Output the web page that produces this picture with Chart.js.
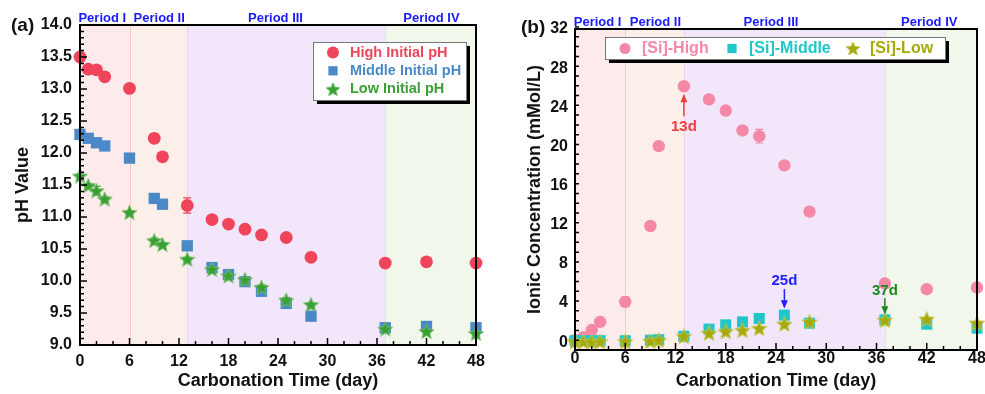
<!DOCTYPE html>
<html>
<head>
<meta charset="utf-8">
<script src="https://cdn.jsdelivr.net/npm/chart.js@4.4.0/dist/chart.umd.min.js"></script>
<style>
body { margin: 0; background: #fff; }
#wrap { position: relative; width: 985px; height: 394px; overflow: hidden; }
canvas { position: absolute; top: 0; }
</style>
</head>
<body>
<div id="wrap">
  <canvas id="chartA" width="492" height="394" style="left:0"></canvas>
  <canvas id="chartB" width="500" height="394" style="left:492px"></canvas>
</div>
<script>
// carbonation days
var days = [0, 1, 2, 3, 6, 9, 10, 13, 16, 18, 20, 22, 25, 28, 37, 42, 48];

// (a) pH values
var highPH   = [13.50, 13.31, 13.30, 13.19, 13.01, 12.23, 11.94, 11.18, 10.96, 10.89, 10.81, 10.72, 10.68, 10.37, 10.28, 10.30, 10.28];
var highErr  = [0.03, 0.03, 0.03, 0.03, 0.04, 0.07, 0.05, 0.12, 0.03, 0.03, 0.03, 0.03, 0.03, 0.03, 0.03, 0.03, 0.03];
var middlePH = [12.29, 12.23, 12.16, 12.11, 11.92, 11.29, 11.20, 10.55, 10.21, 10.10, 9.99, 9.84, 9.65, 9.45, 9.27, 9.29, 9.27];
var middleErr= [0.04, 0.03, 0.03, 0.03, 0.03, 0.04, 0.03, 0.06, 0.04, 0.03, 0.03, 0.04, 0.05, 0.03, 0.04, 0.04, 0.04];
var lowPH    = [11.64, 11.49, 11.41, 11.28, 11.07, 10.63, 10.57, 10.34, 10.18, 10.08, 10.02, 9.90, 9.70, 9.63, 9.25, 9.21, 9.18];
var lowErr   = [0.03, 0.03, 0.07, 0.04, 0.03, 0.04, 0.03, 0.03, 0.04, 0.03, 0.03, 0.04, 0.04, 0.03, 0.04, 0.03, 0.03];

// (b) [Si] concentration, mMol/L
var siHigh     = [0.20, 0.50, 1.24, 2.07, 4.12, 11.87, 20.03, 26.15, 24.80, 23.67, 21.63, 21.05, 18.06, 13.34, 5.99, 5.41, 5.58];
var siHighErr  = [0.1, 0.1, 0.2, 0.2, 0.5, 0.4, 0.35, 0.2, 0.2, 0.2, 0.2, 0.7, 0.2, 0.2, 0.2, 0.2, 0.2];
var siMiddle   = [0.15, 0.15, 0.15, 0.15, 0.15, 0.20, 0.25, 0.60, 1.33, 1.77, 2.07, 2.42, 2.76, 1.94, 2.28, 1.84, 1.43];
var siLow      = [0.05, 0.05, 0.05, 0.05, 0.05, 0.10, 0.20, 0.58, 0.92, 1.09, 1.20, 1.40, 1.84, 2.07, 2.24, 2.35, 1.94];

// tick labels
var xTicks  = [0, 6, 12, 18, 24, 30, 36, 42, 48];
var yTicksA = [9.0, 9.5, 10.0, 10.5, 11.0, 11.5, 12.0, 12.5, 13.0, 13.5, 14.0];
var yTicksB = [0, 4, 8, 12, 16, 20, 24, 28, 32];

// periods
var periodBounds = [0, 6, 13, 37, 48];
var periodNames  = ['Period I', 'Period II', 'Period III', 'Period IV'];

var FONT = '"Liberation Sans", Arial, sans-serif';

function starImage(fill, stroke, R) {
  var c = document.createElement('canvas');
  var s = Math.ceil(R * 2 + 3);
  c.width = s; c.height = s;
  var g = c.getContext('2d');
  g.beginPath();
  for (var i = 0; i < 10; i++) {
    var r = i % 2 ? R * 0.43 : R;
    var a = -Math.PI / 2 + i * Math.PI / 5;
    g.lineTo(s / 2 + r * Math.cos(a), s / 2 + 0.6 + r * Math.sin(a));
  }
  g.closePath();
  g.fillStyle = fill; g.fill();
  g.strokeStyle = stroke; g.lineWidth = 0.8; g.stroke();
  return c;
}

function pts(vals) {
  return days.map(function(d, i) { return {x: d, y: vals[i]}; });
}

function drawMarker(ctx, style, x, y, color, size) {
  ctx.save();
  ctx.fillStyle = color;
  if (style === 'circle') {
    ctx.beginPath(); ctx.arc(x, y, size, 0, Math.PI * 2); ctx.fill();
  } else if (style === 'rect') {
    ctx.fillRect(x - size, y - size, size * 2, size * 2);
  } else {
    ctx.drawImage(style, x - style.width / 2, y - style.height / 2);
  }
  ctx.restore();
}

var decor = {
  id: 'decor',
  beforeDatasetsDraw: function(chart, args, o) {
    var ctx = chart.ctx, a = chart.chartArea, xs = chart.scales.x, ys = chart.scales.y;
    ctx.save();
    for (var i = 0; i < periodNames.length; i++) {
      var x0 = xs.getPixelForValue(periodBounds[i]), x1 = xs.getPixelForValue(periodBounds[i + 1]);
      ctx.fillStyle = o.fills[i];
      ctx.fillRect(x0, a.top, x1 - x0, a.bottom - a.top);
    }
    for (i = 1; i < periodNames.length; i++) {
      var xb = Math.round(xs.getPixelForValue(periodBounds[i])) + 0.5;
      ctx.strokeStyle = o.lines[i - 1];
      ctx.lineWidth = 1;
      ctx.beginPath(); ctx.moveTo(xb, a.top); ctx.lineTo(xb, a.bottom); ctx.stroke();
    }
    // error bars
    chart.data.datasets.forEach(function(ds) {
      if (!ds.err) return;
      ctx.strokeStyle = ds.backgroundColor;
      ctx.lineWidth = 1.2;
      ds.data.forEach(function(p, k) {
        var e = ds.err[k];
        var px = xs.getPixelForValue(p.x), yt = ys.getPixelForValue(p.y + e), yb = ys.getPixelForValue(p.y - e);
        ctx.beginPath();
        ctx.moveTo(px, yt); ctx.lineTo(px, yb);
        ctx.moveTo(px - 4, yt); ctx.lineTo(px + 4, yt);
        ctx.moveTo(px - 4, yb); ctx.lineTo(px + 4, yb);
        ctx.stroke();
      });
    });
    ctx.restore();
  },
  afterDraw: function(chart, args, o) {
    var ctx = chart.ctx, a = chart.chartArea, xs = chart.scales.x, ys = chart.scales.y;
    ctx.save();
    // frame
    ctx.strokeStyle = '#000';
    ctx.lineWidth = 2;
    ctx.strokeRect(a.left, a.top, a.right - a.left, a.bottom - a.top);
    // inward ticks
    ctx.lineWidth = 1.5;
    ctx.beginPath();
    for (var v = 0; v <= 48 + 1e-6; v += 2) {
      var px = xs.getPixelForValue(v), len = (v % 6 === 0) ? 7 : 4;
      ctx.moveTo(px, a.bottom); ctx.lineTo(px, a.bottom - len);
    }
    var n = Math.round((o.yMax - o.yMin) / o.yMinor);
    for (var k = 0; k <= n; k++) {
      var yv = o.yMin + k * o.yMinor;
      var py = ys.getPixelForValue(yv);
      var major = Math.abs(yv / o.yMajor - Math.round(yv / o.yMajor)) < 1e-6;
      ctx.moveTo(a.left, py); ctx.lineTo(a.left + (major ? 7 : 4), py);
    }
    ctx.stroke();

    // period labels
    ctx.fillStyle = '#1a1aff';
    ctx.font = 'bold 13px ' + FONT;
    ctx.textAlign = 'center';
    ctx.textBaseline = 'middle';
    o.periodAt.forEach(function(d, i) {
      ctx.fillText(periodNames[i], xs.getPixelForValue(d), o.periodY);
    });

    // panel label
    ctx.fillStyle = '#111';
    ctx.font = 'bold 19px ' + FONT;
    ctx.textAlign = 'left';
    ctx.fillText(o.panel, o.panelX, o.panelY);

    // legend
    var L = o.legend;
    ctx.fillStyle = '#000';
    ctx.fillRect(L.x + 4, L.y + 4, L.w, L.h);
    ctx.fillStyle = '#fff';
    ctx.fillRect(L.x, L.y, L.w, L.h);
    ctx.strokeStyle = '#777';
    ctx.lineWidth = 1;
    ctx.strokeRect(L.x + 0.5, L.y + 0.5, L.w, L.h);
    ctx.font = 'bold ' + L.font + 'px ' + FONT;
    ctx.textBaseline = 'middle';
    L.items.forEach(function(it, i) {
      var ds = chart.data.datasets[i];
      drawMarker(ctx, it.style, it.mx, it.y, ds.backgroundColor, it.size);
      ctx.fillStyle = ds.backgroundColor;
      ctx.fillText(ds.label, it.tx, it.y);
    });

    // annotations
    (o.notes || []).forEach(function(nt) {
      var p = chart.data.datasets[nt.ds].data[nt.idx];
      var x = xs.getPixelForValue(p.x), y = ys.getPixelForValue(p.y);
      var tip = y + nt.tip, tail = y + nt.tail;
      ctx.strokeStyle = nt.color; ctx.fillStyle = nt.color; ctx.lineWidth = 1.5;
      ctx.beginPath(); ctx.moveTo(x, tail); ctx.lineTo(x, tip); ctx.stroke();
      var dir = tip < tail ? -1 : 1;
      ctx.beginPath();
      ctx.moveTo(x, tip + dir * 1);
      ctx.lineTo(x - 3.5, tip - dir * 7);
      ctx.lineTo(x + 3.5, tip - dir * 7);
      ctx.closePath(); ctx.fill();
      ctx.font = 'bold 15px ' + FONT;
      ctx.textAlign = 'center';
      ctx.textBaseline = 'middle';
      ctx.fillText(nt.text, x, y + nt.ty);
    });
    ctx.restore();
  }
};

function fixedTicks(arr) {
  return function(scale) { scale.ticks = arr.map(function(v) { return {value: v}; }); };
}

function makeChart(id, cfg) {
  return new Chart(document.getElementById(id), {
    type: 'scatter',
    data: {datasets: cfg.datasets},
    plugins: [decor],
    options: {
      responsive: false,
      animation: false,
      layout: {padding: cfg.padding},
      plugins: {legend: {display: false}, tooltip: {enabled: false}, decor: cfg.decor},
      scales: {
        x: {
          min: 0, max: 48,
          afterBuildTicks: fixedTicks(xTicks),
          afterFit: function(s) { s.height = cfg.xHeight; },
          grid: {display: false, drawTicks: false},
          border: {display: false},
          ticks: {color: '#111', font: {family: FONT, size: 16, weight: 'bold'}, padding: cfg.xPad, maxRotation: 0, autoSkip: false},
          title: {display: true, text: 'Carbonation Time (day)', color: '#111',
                  font: {family: FONT, size: 18, weight: 'bold'}, padding: {top: 0, bottom: 2}}
        },
        y: {
          min: cfg.yMin, max: cfg.yMax,
          afterBuildTicks: fixedTicks(cfg.yTicks),
          afterFit: function(s) { s.width = cfg.yWidth; },
          grid: {display: false, drawTicks: false},
          border: {display: false},
          ticks: {color: '#111', font: {family: FONT, size: 16, weight: 'bold'}, padding: cfg.yPad, autoSkip: false,
                  callback: cfg.yFmt},
          title: {display: true, text: cfg.yTitle, color: '#111',
                  font: {family: FONT, size: 18, weight: 'bold'}, padding: {top: cfg.yTitlePad, bottom: 0}}
        }
      }
    }
  });
}

var starGreen = starImage('#3aa034', '#7cc46f', 8);
var starOlive = starImage('#a5aa0a', '#c9cc55', 8.2);
var starGreenL = starImage('#3aa034', '#3aa034', 7);
var starOliveL = starImage('#a5aa0a', '#a5aa0a', 7);

makeChart('chartA', {
  padding: {left: 0, top: 25, right: 16, bottom: 0},
  xHeight: 49, yWidth: 80, xPad: 7, yPad: 8, yTitlePad: 12,
  yMin: 9, yMax: 14, yTicks: yTicksA, yTitle: 'pH Value',
  yFmt: function(v) { return v.toFixed(1); },
  datasets: [
    {label: 'High Initial pH', data: pts(highPH), err: highErr, backgroundColor: '#f0445a', borderColor: '#f0445a',
     pointStyle: 'circle', pointRadius: 6.4, borderWidth: 0, clip: false, order: 3},
    {label: 'Middle Initial pH', data: pts(middlePH), err: middleErr, backgroundColor: '#4a89c6', borderColor: '#4a89c6',
     pointStyle: 'rect', pointRadius: 8, borderWidth: 0, clip: false, order: 2},
    {label: 'Low Initial pH', data: pts(lowPH), err: lowErr, backgroundColor: '#3aa034', borderColor: '#3aa034',
     pointStyle: starGreen, pointRadius: 8, borderWidth: 0, clip: false, order: 1}
  ],
  decor: {
    fills: ['#fdebec', '#fcefe9', '#f2e6fb', '#f1f7eb'],
    lines: ['#f6caca', '#e4d8f0', '#dfe3da'],
    yMin: 9, yMax: 14, yMinor: 0.1, yMajor: 0.5,
    periodAt: [2.7, 9.6, 23.7, 42.6], periodY: 18,
    panel: '(a)', panelX: 11, panelY: 26,
    legend: {x: 313, y: 42, w: 153, h: 58, font: 14.5, items: [
      {style: 'circle', size: 6, mx: 333, tx: 350, y: 52.5},
      {style: 'rect', size: 4.6, mx: 333, tx: 350, y: 70.8},
      {style: starGreenL, size: 7, mx: 333, tx: 350, y: 89.3}
    ]}
  }
});

makeChart('chartB', {
  padding: {left: 0, top: 29, right: 15, bottom: 0},
  xHeight: 44, yWidth: 83, xPad: -1, yPad: 7, yTitlePad: 32,
  yMin: -0.8, yMax: 32, yTicks: yTicksB, yTitle: 'Ionic Concentration (mMol/L)',
  yFmt: function(v) { return String(v); },
  datasets: [
    {label: '[Si]-High', data: pts(siHigh), err: siHighErr, backgroundColor: '#f588a6', borderColor: '#f588a6',
     pointStyle: 'circle', pointRadius: 6.2, borderWidth: 0, clip: false, order: 3},
    {label: '[Si]-Middle', data: pts(siMiddle), backgroundColor: '#20c6c8', borderColor: '#20c6c8',
     pointStyle: 'rect', pointRadius: 7.8, borderWidth: 0, clip: false, order: 2},
    {label: '[Si]-Low', data: pts(siLow), backgroundColor: '#a5aa0a', borderColor: '#a5aa0a',
     pointStyle: starOlive, pointRadius: 8, borderWidth: 0, clip: false, order: 1}
  ],
  decor: {
    fills: ['#fdebec', '#fcefe9', '#f2e6fb', '#f1f7eb'],
    lines: ['#f6caca', '#e4d8f0', '#dfe3da'],
    yMin: -0.8, yMax: 32, yMinor: 1, yMajor: 4,
    periodAt: [2.7, 9.6, 23.4, 42.3], periodY: 22,
    panel: '(b)', panelX: 29, panelY: 28,
    legend: {x: 113, y: 37, w: 340, h: 22, font: 16, items: [
      {style: 'circle', size: 5.5, mx: 133, tx: 150, y: 48.5},
      {style: 'rect', size: 4.6, mx: 240, tx: 257, y: 48.5},
      {style: starOliveL, size: 7, mx: 361, tx: 378, y: 48.5}
    ]},
    notes: [
      {text: '13d', color: '#f03c3c', ds: 0, idx: 7, tip: 9, tail: 30, ty: 41},
      {text: '25d', color: '#1f1fff', ds: 1, idx: 12, tip: -8, tail: -26, ty: -34},
      {text: '37d', color: '#1a8a1a', ds: 2, idx: 14, tip: -7, tail: -22, ty: -29}
    ]
  }
});
</script>
</body>
</html>
